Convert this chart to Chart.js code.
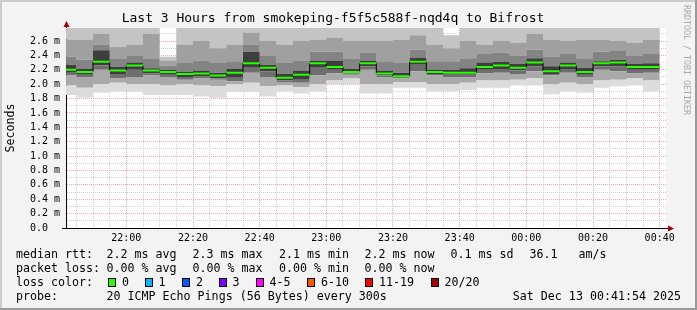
<!DOCTYPE html>
<html>
<head>
<meta charset="utf-8">
<style>
html,body{margin:0;padding:0;background:#f3f3f3;}
#wrap{width:697px;height:310px;}
</style>
<script src="https://cdn.jsdelivr.net/npm/chart.js@4/dist/chart.umd.min.js"></script>
</head>
<body>
<div id="wrap"><canvas id="c" width="697" height="310"></canvas></div>
<script>
// ---- data ----
const titleText = 'Last 3 Hours from smokeping-f5f5c588f-nqd4q to Bifrost';
const axisStart = '21:41:54';
const axisEnd = '00:41:54';
const slotStarts = ['21:41:54','21:45','21:50','21:55','22:00','22:05','22:10','22:15','22:20','22:25','22:30','22:35','22:40','22:45','22:50','22:55','23:00','23:05','23:10','23:15','23:20','23:25','23:30','23:35','23:40','23:45','23:50','23:55','00:00','00:05','00:10','00:15','00:20','00:25','00:30','00:35'];
const slotEnd = '00:40';
// values in milliseconds
const median = [2.20,2.17,2.31,2.19,2.26,2.19,2.17,2.14,2.15,2.12,2.16,2.29,2.23,2.09,2.13,2.29,2.24,2.17,2.29,2.15,2.11,2.31,2.17,2.16,2.16,2.24,2.26,2.23,2.30,2.18,2.26,2.17,2.29,2.30,2.24,2.24];
const pingMin = [1.85,1.81,1.88,1.90,1.89,1.85,1.85,1.85,1.83,1.81,1.89,1.89,1.83,1.90,1.87,1.90,2.00,2.00,1.87,1.87,1.95,1.95,1.90,1.90,1.92,1.95,1.95,1.98,1.98,1.86,1.90,1.88,1.95,1.97,1.98,1.90];
const pingP10 = [1.98,1.95,2.00,2.02,2.00,2.00,1.98,2.00,1.98,1.97,2.00,2.02,1.97,1.98,1.96,2.00,2.05,2.08,2.00,2.00,2.03,2.03,2.00,2.00,2.02,2.05,2.05,2.06,2.08,2.00,2.02,2.00,2.05,2.06,2.08,2.05];
const pingP25 = [2.12,2.10,2.20,2.08,2.10,2.12,2.10,2.06,2.08,2.06,2.04,2.16,2.10,2.03,2.02,2.12,2.15,2.13,2.20,2.10,2.08,2.18,2.12,2.10,2.10,2.15,2.16,2.14,2.18,2.12,2.16,2.10,2.20,2.18,2.15,2.16];
const pingP40 = [2.16,2.13,2.26,2.14,2.20,2.15,2.13,2.10,2.11,2.08,2.09,2.24,2.18,2.05,2.06,2.24,2.20,2.15,2.25,2.12,2.09,2.27,2.14,2.13,2.13,2.20,2.21,2.19,2.25,2.14,2.21,2.13,2.25,2.25,2.20,2.20];
const pingP60 = [2.27,2.21,2.47,2.24,2.30,2.22,2.20,2.17,2.19,2.16,2.21,2.45,2.27,2.14,2.19,2.33,2.33,2.21,2.33,2.19,2.16,2.37,2.20,2.20,2.22,2.30,2.31,2.28,2.36,2.25,2.30,2.23,2.32,2.34,2.28,2.29];
const pingP75 = [2.38,2.34,2.55,2.35,2.40,2.35,2.26,2.30,2.33,2.30,2.32,2.55,2.40,2.30,2.33,2.45,2.45,2.35,2.44,2.32,2.30,2.48,2.32,2.32,2.36,2.42,2.44,2.40,2.48,2.38,2.42,2.36,2.45,2.46,2.40,2.42];
const pingP90 = [2.62,2.62,2.70,2.52,2.55,2.70,2.33,2.55,2.60,2.50,2.55,2.72,2.60,2.55,2.60,2.62,2.65,2.60,2.60,2.60,2.62,2.68,2.55,2.50,2.60,2.55,2.60,2.58,2.70,2.62,2.60,2.62,2.62,2.60,2.58,2.62];
const pingMax = [2.90,2.90,2.90,2.90,2.90,2.90,2.38,2.90,2.90,2.90,2.90,2.90,2.90,2.90,2.90,2.90,2.90,2.90,2.90,2.90,2.90,2.90,2.90,2.68,2.90,2.90,2.90,2.90,2.90,2.90,2.90,2.90,2.90,2.90,2.90,2.90];
const yMax = 2.781;
const yLabels = ['0.0  ','0.2 m','0.4 m','0.6 m','0.8 m','1.0 m','1.2 m','1.4 m','1.6 m','1.8 m','2.0 m','2.2 m','2.4 m','2.6 m'];
const xLabels = ['22:00','22:20','22:40','23:00','23:20','23:40','00:00','00:20','00:40'];
const statsRtt = ['2.2 ms avg','2.3 ms max','2.1 ms min','2.2 ms now','0.1 ms sd','36.1','am/s'];
const statsLoss = ['0.00 % avg','0.00 % max','0.00 % min','0.00 % now'];
const lossLabels = ['0','1','2','3','4-5','6-10','11-19','20/20'];
const lossColors = ['#26ff00','#00b8ff','#0059ff','#7e00ff','#ff00ff','#ff5500','#ff0000','#a10000'];
const probeText = '20 ICMP Echo Pings (56 Bytes) every 300s';
const stampText = 'Sat Dec 13 00:41:54 2025';

// ---- helpers ----
function toMin(s){
  const p = s.split(':').map(Number);
  let h = p[0]; if (h < 21) h += 24;
  return (h-21)*60 + p[1] + (p[2]||0)/60;
}
function fmtMin(v){
  const h = (21 + Math.floor(v/60)) % 24, m = Math.round(v % 60);
  return String(h).padStart(2,'0') + ':' + String(m).padStart(2,'0');
}
const xs = slotStarts.map(toMin);
const xEnd = toMin(slotEnd);
// points at each slot start (+ closing point); stepped:true keeps value until next point
function stepData(arr){
  const d = xs.map((x,i)=>({x:x, y:arr[i]}));
  d.push({x:xEnd, y:arr[arr.length-1]});
  return d;
}
const greenSegs = [];
xs.forEach((x,i)=>{
  const e = i < xs.length-1 ? xs[i+1] : xEnd;
  greenSegs.push({x:x,y:median[i]},{x:e,y:median[i]},{x:e,y:null});
});
const MONO = 'DejaVu Sans Mono';
function band(data, color, target){
  return {type:'line', data:stepData(data), stepped:true, borderWidth:0, pointRadius:0,
    backgroundColor:color, borderColor:'rgba(0,0,0,0)', fill: target === null ? false : target};
}

const bgPlugin = {
  id:'bg',
  beforeDraw(chart){
    const {ctx, chartArea:a} = chart;
    ctx.save();
    ctx.fillStyle = '#f3f3f3';
    ctx.fillRect(0,0,chart.width,chart.height);
    ctx.fillStyle = '#cbcbcb';
    ctx.fillRect(0,0,chart.width,2); ctx.fillRect(0,0,2,chart.height);
    ctx.fillStyle = '#999999';
    ctx.fillRect(0,chart.height-2,chart.width,2); ctx.fillRect(chart.width-2,0,2,chart.height);
    ctx.fillStyle = '#ffffff';
    ctx.fillRect(a.left,a.top,a.right-a.left,a.bottom-a.top);
    ctx.restore();
  },
  afterDraw(chart){
    const {ctx, chartArea:a} = chart;
    ctx.save();
    ctx.strokeStyle = '#000'; ctx.lineWidth = 1;
    ctx.beginPath(); ctx.moveTo(a.left+0.5, a.top); ctx.lineTo(a.left+0.5, a.top-2); ctx.stroke();
    ctx.beginPath(); ctx.moveTo(a.right, a.bottom+0.5); ctx.lineTo(a.right+3, a.bottom+0.5); ctx.stroke();
    ctx.beginPath(); ctx.moveTo(a.left-4, a.bottom+0.5); ctx.lineTo(a.left, a.bottom+0.5); ctx.stroke();
    ctx.fillStyle = '#a10000';
    ctx.beginPath(); ctx.moveTo(a.left+0.5, a.top-7); ctx.lineTo(a.left-2.5, a.top-1); ctx.lineTo(a.left+3.5, a.top-1); ctx.closePath(); ctx.fill();
    ctx.beginPath(); ctx.moveTo(a.right+8, a.bottom+0.5); ctx.lineTo(a.right+2, a.bottom-2.5); ctx.lineTo(a.right+2, a.bottom+3.5); ctx.closePath(); ctx.fill();
    ctx.fillStyle = '#a8a8a8';
    ctx.font = '8.3px "' + MONO + '"';
    ctx.translate(683, 5); ctx.rotate(Math.PI/2);
    ctx.textBaseline = 'middle'; ctx.textAlign = 'left';
    ctx.fillText('RRDTOOL / TOBI OETIKER', 0, -3);
    ctx.restore();
    ctx.save();
    ctx.fillStyle = '#000';
    ctx.font = '11.65px "' + MONO + '"';
    ctx.textBaseline = 'middle'; ctx.textAlign = 'left';
    const r1 = 254.5, r2 = 268.5, r3 = 282.5, r4 = 296.5;
    ctx.fillText('median rtt:', 16, r1);
    const rttX = [106.5,192.5,279,364.5,450.5,529.5,578.5];
    statsRtt.forEach((t,i)=>ctx.fillText(t, rttX[i], r1));
    ctx.fillText('packet loss:', 16, r2);
    statsLoss.forEach((t,i)=>ctx.fillText(t, rttX[i], r2));
    ctx.fillText('loss color:', 16, r3);
    const boxX = [108,145,182,219,256,307,365,431];
    const labX = [122,158.5,196,232.5,269.5,321,379,444.5];
    lossLabels.forEach((t,i)=>{
      ctx.fillStyle = lossColors[i];
      ctx.fillRect(boxX[i], 278, 8, 9);
      ctx.strokeStyle = '#000'; ctx.lineWidth = 1;
      ctx.strokeRect(boxX[i]+0.5, 278.5, 7, 8);
      ctx.fillStyle = '#000';
      ctx.fillText(t, labX[i], r3);
    });
    ctx.fillText('probe:', 16, r4);
    ctx.fillText(probeText, 106.5, r4);
    ctx.textAlign = 'right';
    ctx.fillText(stampText, 681, r4);
    ctx.restore();
  }
};

new Chart(document.getElementById('c'), {
  type:'line',
  data:{datasets:[
    {type:'line', data:greenSegs, borderColor:'#26ff00', borderWidth:2, pointRadius:0, spanGaps:false, fill:false, borderCapStyle:'butt'},
    {type:'line', data:stepData(median), stepped:true, borderColor:'#000', borderWidth:1, pointRadius:0, fill:false},
    band(pingMin, 'rgba(0,0,0,0)', null),
    band(pingP10, '#dcdcdc', 2),
    band(pingP25, '#a9a9a9', 3),
    band(pingP40, '#6e6e6e', 4),
    band(pingP60, '#3e3e3e', 5),
    band(pingP75, '#848484', 6),
    band(pingP90, '#a0a0a0', 7),
    band(pingMax, '#c4c4c4', 8)
  ]},
  options:{
    responsive:false, animation:false, devicePixelRatio:1,
    layout:{padding:{left:0,right:31,top:0,bottom:62}},
    plugins:{
      legend:{display:false}, tooltip:{enabled:false},
      title:{display:true, text:titleText, color:'#000', font:{family:MONO, size:13, weight:'normal', lineHeight:1}, padding:{top:12.5,bottom:2.5}}
    },
    elements:{line:{tension:0}},
    scales:{
      x:{type:'linear', min:toMin(axisStart), max:toMin(axisEnd), z:1,
        afterFit(s){ s.height = 20; },
        afterBuildTicks(s){ const t=[]; for(let v=45; v<=s.max; v+=5) t.push({value:v}); s.ticks=t; },
        ticks:{autoSkip:false, maxRotation:0, padding:4, color:'#000', font:{family:MONO,size:10},
          callback(v){ const l = fmtMin(v); return (v % 20 === 0 && xLabels.includes(l)) ? l : ''; }},
        grid:{drawTicks:false, lineWidth:1, color(c){ return c.tick && c.tick.value % 20 === 0 ? '#f2a8a8' : '#d2d2d2'; }},
        border:{display:true, color:'#000', width:1, dash:[1,1]}
      },
      y:{type:'linear', min:0, max:yMax, z:1,
        afterFit(s){ s.width = 66; },
        afterBuildTicks(s){ const t=[]; for(let k=0;k<=27;k++) t.push({value:k/10}); s.ticks=t; },
        ticks:{autoSkip:false, padding:6, color:'#000', font:{family:MONO,size:10},
          callback(v){ const k = Math.round(v*10); return k % 2 === 0 ? (yLabels[k/2] || '') : ''; }},
        grid:{drawTicks:false, lineWidth:1, color(c){ if(!c.tick) return '#d2d2d2'; const k=Math.round(c.tick.value*10); if(k===0) return 'rgba(0,0,0,0)'; return k%2===0 ? '#f2a8a8' : '#d2d2d2'; }},
        border:{display:true, color:'#000', width:1, dash:[1,1]},
        title:{display:true, text:'Seconds', color:'#000', font:{family:MONO,size:11.65}, padding:{top:4,bottom:0}}
      }
    }
  },
  plugins:[bgPlugin]
});
</script>
</body>
</html>
